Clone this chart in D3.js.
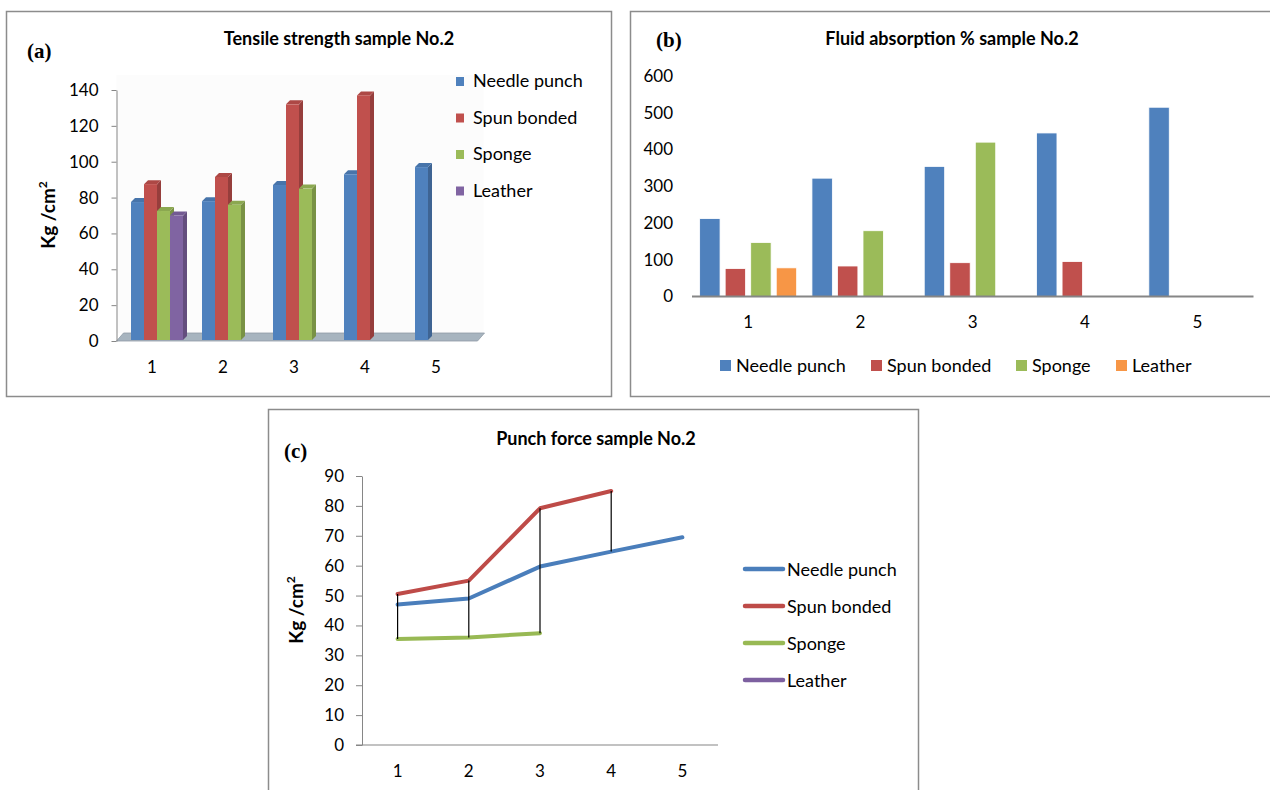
<!DOCTYPE html>
<html>
<head>
<meta charset="utf-8">
<script src="https://cdn.jsdelivr.net/npm/d3@7"></script>
<style>
  body { margin: 0; background: #fff; }
  svg { display: block; }
</style>
</head>
<body>
<script>
// ---- data ----
const categories = ["1", "2", "3", "4", "5"];
const seriesNames = ["Needle punch", "Spun bonded", "Sponge", "Leather"];

// (a) tensile strength, Kg/cm2
const tensileNeedle = [77.5, 78, 87, 93, 97];
const tensileSpun = [87.5, 91.5, 132, 137, null];
const tensileSponge = [72.5, 76, 85, null, null];
const tensileLeather = [70, null, null, null, null];
const tensileTicks = [0, 20, 40, 60, 80, 100, 120, 140];

// (b) fluid absorption %
const fluidNeedle = [212, 322, 354, 445, 515];
const fluidSpun = [76, 83, 92, 95, null];
const fluidSponge = [147, 179, 420, null, null];
const fluidLeather = [78, null, null, null, null];
const fluidTicks = [0, 100, 200, 300, 400, 500, 600];

// (c) punch force, Kg/cm2
const punchNeedle = [47, 49, 59.7, 64.7, 69.5];
const punchSpun = [50.5, 55, 79.2, 85, null];
const punchSponge = [35.5, 36, 37.4, null, null];
const punchLeather = [null, null, null, null, null];
const punchTicks = [0, 10, 20, 30, 40, 50, 60, 70, 80, 90];

const barColors = ["#4f81bd", "#c0504d", "#9bbb59", "#8064a2"];
const fluidColors = ["#4f81bd", "#c0504d", "#9bbb59", "#f79646"];
const lineColors = ["#4a7ebb", "#be4b48", "#98b954", "#7d60a0"];

const FONT = "Lato, 'Open Sans', sans-serif";
const SERIF = "'Liberation Serif', 'DejaVu Serif', serif";
const AXIS_GREY = "#868686";

const svg = d3.select("body").append("svg")
    .attr("width", 1270)
    .attr("height", 790);

// panel frames
function frame(x, y, w, h) {
    svg.append("rect")
        .attr("x", x).attr("y", y).attr("width", w).attr("height", h)
        .attr("fill", "#fff")
        .attr("stroke", "#8c8c8c")
        .attr("stroke-width", 1.5);
}
frame(6.5, 11.5, 605, 385);
frame(630.5, 11.5, 645, 385);
frame(268.5, 409.5, 650, 400);

function title(txt, x, y) {
    svg.append("text")
        .attr("x", x).attr("y", y)
        .attr("text-anchor", "middle")
        .style("font-family", FONT)
        .style("font-weight", "bold")
        .style("font-size", "18px")
        .text(txt);
}
function panelTag(txt, x, y) {
    svg.append("text")
        .attr("x", x).attr("y", y)
        .style("font-family", SERIF)
        .style("font-weight", "bold")
        .style("font-size", "21px")
        .text(txt);
}
function yLabel(x, y) {
    let t = svg.append("text")
        .attr("transform", `translate(${x},${y}) rotate(-90)`)
        .attr("text-anchor", "middle")
        .style("font-family", FONT)
        .style("font-weight", "bold")
        .style("font-size", "19px");
    t.append("tspan").text("Kg /cm");
    t.append("tspan").attr("dy", -8).style("font-size", "12px").text("2");
}
function styleAxis(g, showDomain) {
    g.selectAll("text")
        .style("font-family", FONT)
        .style("font-size", "17px")
        .attr("fill", "#000");
    g.selectAll("line").attr("stroke", AXIS_GREY);
    g.select(".domain").attr("stroke", showDomain ? AXIS_GREY : "none");
}

// ================= (a) Tensile strength, 3D columns =================
{
    let tensile = [tensileNeedle, tensileSpun, tensileSponge, tensileLeather];
    let y = d3.scaleLinear().domain([0, 140]).range([341, 90]);
    let x = d3.scaleBand().domain(categories).range([116.5, 471.5]);
    let BW = 13, DX = 4, DY = 4;

    panelTag("(a)", 27, 58);
    title("Tensile strength sample No.2", 339, 45);
    yLabel(55, 215);

    // back wall + floor
    svg.append("rect")
        .attr("x", x.range()[0]).attr("y", y(140) - 15)
        .attr("width", x.range()[1] - x.range()[0] + 12)
        .attr("height", y(0) - 8 - (y(140) - 15))
        .attr("fill", "#fcfcfc");
    let x0 = x.range()[0], x1 = x.range()[1] + 6;
    svg.append("polygon")
        .attr("points", [[x0, y(0)], [x1, y(0)], [x1 + 7, y(0) - 8], [x0 + 7, y(0) - 8]].join(" "))
        .attr("fill", "#a7b4bf")
        .attr("stroke", "#8f9ba6")
        .attr("stroke-width", 0.8);

    let ax = svg.append("g")
        .attr("transform", `translate(${x0},0)`)
        .call(d3.axisLeft(y).tickValues(tensileTicks).tickSize(5).tickSizeOuter(0).tickPadding(13));
    styleAxis(ax, true);

    // category labels
    svg.append("g").selectAll("text")
        .data(categories)
        .join("text")
        .attr("x", d => x(d) + x.bandwidth() / 2)
        .attr("y", 373)
        .attr("text-anchor", "middle")
        .style("font-family", FONT)
        .style("font-size", "17px")
        .text(d => d);

    let bars = svg.append("g");
    categories.forEach((c, ci) => {
        tensile.forEach((vals, si) => {
            let v = vals[ci];
            if (v == null) return;
            let bx = x(c) + x.bandwidth() / 2 - 21 + si * BW;
            let top = y(v), bot = y(0) - 1;
            let col = d3.color(barColors[si]);
            bars.append("polygon")
                .attr("points", [[bx + BW, top], [bx + BW + DX, top - DY], [bx + BW + DX, bot - DY], [bx + BW, bot]].join(" "))
                .attr("fill", col.darker(0.7));
            bars.append("polygon")
                .attr("points", [[bx, top], [bx + DX, top - DY], [bx + BW + DX, top - DY], [bx + BW, top]].join(" "))
                .attr("fill", col.darker(0.3));
            bars.append("rect")
                .attr("x", bx).attr("y", top)
                .attr("width", BW).attr("height", bot - top)
                .attr("fill", col);
        });
    });

    // legend
    let lg = svg.append("g").selectAll("g")
        .data(seriesNames)
        .join("g")
        .attr("transform", (d, i) => `translate(456,${87 + i * 36.5})`);
    lg.append("rect").attr("x", 0).attr("y", -10).attr("width", 8).attr("height", 9)
        .attr("fill", (d, i) => barColors[i]);
    lg.append("text").attr("x", 17).attr("y", 0)
        .style("font-family", FONT).style("font-size", "18px")
        .text(d => d);
}

// ================= (b) Fluid absorption, clustered columns =================
{
    let fluid = [fluidNeedle, fluidSpun, fluidSponge, fluidLeather];
    let y = d3.scaleLinear().domain([0, 600]).range([296.5, 76]);
    let x = d3.scaleBand().domain(categories).range([692, 1253.5])
        .paddingInner(0.136).paddingOuter(0.068);
    let xs = d3.scaleBand().domain(d3.range(4)).range([0, x.bandwidth()]).paddingInner(0.2);

    panelTag("(b)", 656, 47);
    title("Fluid absorption % sample No.2", 952, 45);

    let ax = svg.append("g")
        .attr("transform", "translate(692,0)")
        .call(d3.axisLeft(y).tickValues(fluidTicks).tickSize(0).tickPadding(19));
    styleAxis(ax, false);

    let rows = [];
    categories.forEach((c, ci) => fluid.forEach((vals, si) => {
        if (vals[ci] != null) rows.push({ c: c, s: si, v: vals[ci] });
    }));
    svg.append("g").selectAll("rect")
        .data(rows)
        .join("rect")
        .attr("x", d => x(d.c) + xs(d.s))
        .attr("y", d => y(d.v))
        .attr("width", xs.bandwidth())
        .attr("height", d => y(0) - y(d.v))
        .attr("fill", d => fluidColors[d.s])
        .attr("stroke", "#fff")
        .attr("stroke-width", 0.8);

    svg.append("line")
        .attr("x1", 692).attr("x2", 1253.5)
        .attr("y1", y(0)).attr("y2", y(0))
        .attr("stroke", AXIS_GREY).attr("stroke-width", 2);

    svg.append("g").selectAll("text")
        .data(categories)
        .join("text")
        .attr("x", d => x(d) + x.bandwidth() / 2)
        .attr("y", 328)
        .attr("text-anchor", "middle")
        .style("font-family", FONT)
        .style("font-size", "17px")
        .text(d => d);

    // legend along the bottom
    let legendX = [720, 871, 1016, 1116];
    let lg = svg.append("g").selectAll("g")
        .data(seriesNames)
        .join("g")
        .attr("transform", (d, i) => `translate(${legendX[i]},372)`);
    lg.append("rect").attr("x", 0).attr("y", -12).attr("width", 11).attr("height", 11)
        .attr("fill", (d, i) => fluidColors[i]);
    lg.append("text").attr("x", 16).attr("y", 0)
        .style("font-family", FONT).style("font-size", "18px")
        .text(d => d);
}

// ================= (c) Punch force, lines with high-low lines =================
{
    let punch = [punchNeedle, punchSpun, punchSponge, punchLeather];
    let y = d3.scaleLinear().domain([0, 90]).range([745, 476]);
    let x = d3.scaleBand().domain(categories).range([362, 718]);
    let cx = c => x(c) + x.bandwidth() / 2;

    panelTag("(c)", 284, 458);
    title("Punch force sample No.2", 596, 445);
    yLabel(303, 610);

    let ax = svg.append("g")
        .attr("transform", "translate(362,0)")
        .call(d3.axisLeft(y).tickValues(punchTicks).tickSize(6).tickSizeOuter(0).tickPadding(12));
    styleAxis(ax, true);

    svg.append("line")
        .attr("x1", 356).attr("x2", 718)
        .attr("y1", y(0)).attr("y2", y(0))
        .attr("stroke", AXIS_GREY).attr("stroke-width", 1.2);

    svg.append("g").selectAll("text")
        .data(categories)
        .join("text")
        .attr("x", d => cx(d))
        .attr("y", 777)
        .attr("text-anchor", "middle")
        .style("font-family", FONT)
        .style("font-size", "17px")
        .text(d => d);

    // high-low lines
    let hl = categories.map((c, ci) => {
        let vals = punch.map(s => s[ci]).filter(v => v != null);
        return { c: c, lo: d3.min(vals), hi: d3.max(vals), n: vals.length };
    }).filter(d => d.n > 1);

    let line = d3.line()
        .defined(d => d.v != null)
        .x(d => cx(d.c))
        .y(d => y(d.v));

    svg.append("g").selectAll("path")
        .data(punch)
        .join("path")
        .attr("d", vals => line(vals.map((v, i) => ({ c: categories[i], v: v }))))
        .attr("fill", "none")
        .attr("stroke", (d, i) => lineColors[i])
        .attr("stroke-width", 4)
        .attr("stroke-linejoin", "round")
        .attr("stroke-linecap", "round");

    svg.append("g").selectAll("line")
        .data(hl)
        .join("line")
        .attr("x1", d => cx(d.c)).attr("x2", d => cx(d.c))
        .attr("y1", d => y(d.lo)).attr("y2", d => y(d.hi))
        .attr("stroke", "#000").attr("stroke-width", 1.2);

    let lg = svg.append("g").selectAll("g")
        .data(seriesNames)
        .join("g")
        .attr("transform", (d, i) => `translate(745,${569 + i * 37})`);
    lg.append("line").attr("x1", 0).attr("x2", 38).attr("y1", 0).attr("y2", 0)
        .attr("stroke", (d, i) => lineColors[i]).attr("stroke-width", 4.5)
        .attr("stroke-linecap", "round");
    lg.append("text").attr("x", 42).attr("y", 7)
        .style("font-family", FONT).style("font-size", "18px")
        .text(d => d);
}
</script>
</body>
</html>
